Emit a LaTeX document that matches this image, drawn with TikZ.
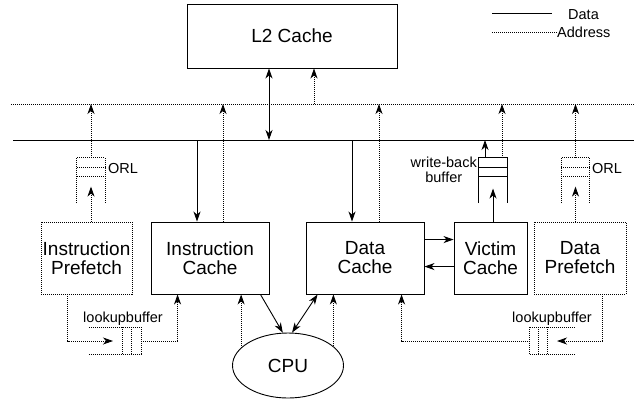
\documentclass[tikz,border=0pt]{standalone}
\usepackage{fontspec}
\setmainfont{Liberation Sans}
\usetikzlibrary{arrows.meta,calc,shapes.geometric}

\tikzset{
  unit/.style={draw, line width=0.9pt, inner sep=0pt, align=center,
    font=\fontsize{19}{19}\selectfont},
  buf/.style={inner sep=0pt, minimum width=28pt, minimum height=45pt},
  lbuf/.style={inner sep=0pt, minimum height=27pt},
  addr/.style={line width=0.85pt, dash pattern=on 1pt off 1pt},
  dat/.style={line width=0.9pt},
  toarr/.style={-{Stealth[length=10pt,width=7pt,inset=3pt]}},
  botharr/.style={{Stealth[length=10pt,width=7pt,inset=3pt]}-{Stealth[length=10pt,width=7pt,inset=3pt]}},
  lbl/.style={inner sep=0pt, align=center, font=\fontsize{14.5}{15}\selectfont},
}

\begin{document}
\begin{tikzpicture}[x=1pt,y=-1pt]
\useasboundingbox (0,0) rectangle (644,402);

\node[unit, minimum width=210pt, minimum height=64pt] (l2) at (292,36) {L2 Cache};
\node[unit, addr, minimum width=91pt, minimum height=72pt] (ipf) at (86.5,258) {Instruction\\Prefetch};
\node[unit, minimum width=118pt, minimum height=72pt] (ic) at (210,258) {Instruction\\Cache};
\node[unit, minimum width=118pt, minimum height=72pt] (dc) at (365,258) {Data\\Cache};
\node[unit, minimum width=73pt, minimum height=72pt] (vc) at (490.5,258) {Victim\\Cache};
\node[unit, addr, minimum width=92pt, minimum height=72pt] (dpf) at (580,258) {Data\\Prefetch};
\node[unit, ellipse, minimum width=111pt, minimum height=65pt] (cpu) at (288,365.5) {CPU};

\node[buf] (orl1) at (91,180.5) {};
\node[buf] (wb) at (493,180.5) {};
\node[buf] (orl2) at (575.5,180.5) {};
\node[lbuf, minimum width=52pt] (lb1) at (115,341) {};
\node[lbuf, minimum width=44pt] (lb2) at (552,341) {};

\foreach \b in {orl1,orl2} {
  \draw[addr] (\b.south west) |- (\b.north east) -- (\b.south east);
  \foreach \d in {10,19}
    \draw[addr] ($(\b.north west)+(0,\d)$) -- ($(\b.north east)+(0,\d)$);
}
\draw[dat] (wb.south west) |- (wb.north east) -- (wb.south east);
\foreach \d in {10,19}
  \draw[dat] ($(wb.north west)+(0,\d)$) -- ($(wb.north east)+(0,\d)$);

\draw[addr] (lb1.north west) -- (lb1.north east) (lb1.south west) -- (lb1.south east);
\foreach \d in {0,10,19}
  \draw[addr] ($(lb1.north east)+(-\d,0)$) -- ($(lb1.south east)+(-\d,0)$);
\draw[addr] (lb2.north west) -- (lb2.north east) (lb2.south west) -- (lb2.south east);
\foreach \d in {0,9,18}
  \draw[addr] ($(lb2.north west)+(\d,0)$) -- ($(lb2.south west)+(\d,0)$);

\node[lbl, anchor=base west] (orl1t) at (108,173) {ORL};
\node[lbl, anchor=base west] (orl2t) at (592,173) {ORL};
\node[lbl, anchor=east] (wbt) at (477,170) {write-back\\buffer};
\node[lbl, anchor=base] (lb1t) at (123,322) {lookupbuffer};
\node[lbl, anchor=base] (lb2t) at (552,322) {lookupbuffer};

\coordinate (abw) at (11,104);
\coordinate (abe) at (634,104);
\coordinate (dbw) at (13,140);
\coordinate (dbe) at (634,140);
\draw[addr] (abw) -- (abe);
\draw[dat] (dbw) -- (dbe);

\coordinate (dL2) at (269,140);
\coordinate (aL2) at (314,104);
\coordinate (dIC) at (197,140);
\coordinate (aIC) at (223,104);
\coordinate (dDC) at (352,140);
\coordinate (aDC) at (379,104);
\coordinate (dWB) at (485,140);
\coordinate (aWB) at (502,104);
\coordinate (lbIn1) at (113,341);
\coordinate (lbIn2) at (557,341);

\draw[dat, botharr] (l2.south -| dL2) -- (dL2);
\draw[addr, toarr] (aL2) -- (l2.south -| aL2);
\draw[dat, toarr] (dIC) -- (ic.north -| dIC);
\draw[dat, toarr] (dDC) -- (dc.north -| dDC);
\draw[addr, toarr] (ic.north -| aIC) -- (aIC);
\draw[addr, toarr] (dc.north -| aDC) -- (aDC);

\draw[addr, toarr] (orl1.north) -- (orl1.north |- abw);
\draw[addr, toarr] (ipf.north -| orl1) -- ++(0,-35);
\draw[addr, toarr] (orl2.north) -- (orl2.north |- abw);
\draw[addr, toarr] (dpf.north -| orl2) -- ++(0,-35);
\draw[dat, toarr] (vc.north -| wb) -- ++(0,-33);
\draw[dat, toarr] (wb.north -| dWB) -- (dWB);
\draw[addr, toarr] (wb.north -| aWB) -- (aWB);

\draw[dat, toarr] ($(dc.north east)+(0,18)$) -- ($(vc.north west)+(0,18)$);
\draw[dat, toarr] ($(vc.north west)+(0,45)$) -- ($(dc.north east)+(0,45)$);

\draw[addr, toarr] ($(ipf.south west)+(27,0)$) |- (lbIn1);
\draw[addr, toarr] (lb1.east) -| ($(ic.south west)+(27,0)$);
\draw[addr, toarr] ($(dpf.south west)+(69,0)$) |- (lbIn2);
\draw[addr, toarr] (lb2.west) -| ($(dc.south west)+(96,0)$);
\draw[addr, toarr] (cpu.159) -- (cpu.159 |- ic.south);
\draw[addr, toarr] (cpu.23) -- (cpu.23 |- dc.south);
\draw[dat, toarr] ($(ic.south east)+(-9,0)$) -- (cpu.99);
\draw[dat, botharr] (cpu.83) -- ($(dc.south west)+(12,0)$);

\coordinate (lgd1) at (492,13);
\coordinate (lgd2) at (552,13);
\coordinate (lga1) at (492,32);
\coordinate (lga2) at (557,32);
\draw[dat] (lgd1) -- (lgd2);
\draw[addr] (lga1) -- (lga2);
\node[lbl, anchor=base west] (lgdt) at (568,19) {Data};
\node[lbl, anchor=base west] (lgat) at (557,37) {Address};
\end{tikzpicture}
\end{document}
